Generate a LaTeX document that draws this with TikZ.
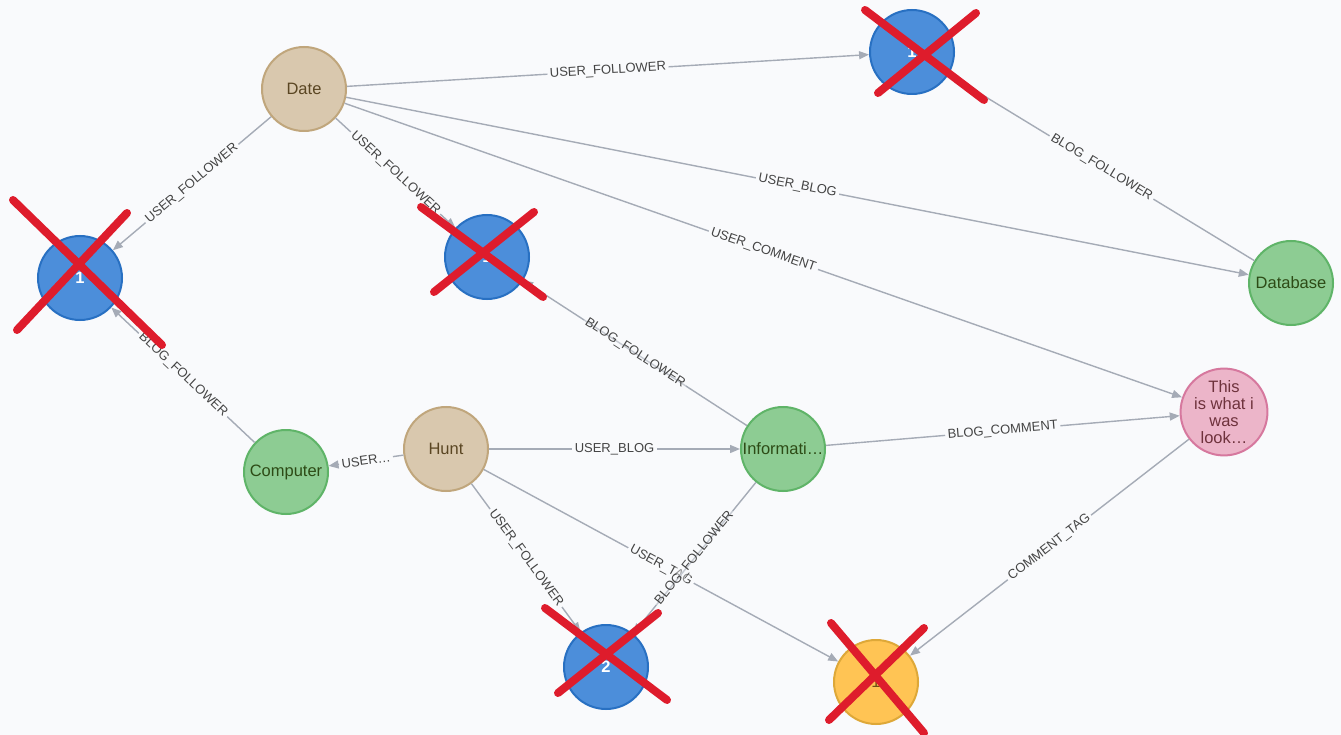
\documentclass[tikz,border=0pt]{standalone}
\usepackage{fontspec}
\setmainfont{Liberation Sans}
\usetikzlibrary{arrows.meta}

\definecolor{bg}{RGB}{249,250,252}
\definecolor{edgegray}{RGB}{165,171,182}
\definecolor{labelgray}{RGB}{68,68,68}
\definecolor{tanfill}{RGB}{217,200,174}
\definecolor{tanline}{RGB}{192,166,124}
\definecolor{tantext}{RGB}{90,70,35}
\definecolor{greenfill}{RGB}{141,204,147}
\definecolor{greenline}{RGB}{95,180,104}
\definecolor{greentext}{RGB}{45,75,22}
\definecolor{bluefill}{RGB}{76,142,218}
\definecolor{blueline}{RGB}{40,112,194}
\definecolor{pinkfill}{RGB}{236,181,201}
\definecolor{pinkline}{RGB}{214,120,158}
\definecolor{pinktext}{RGB}{110,50,60}
\definecolor{orangefill}{RGB}{255,196,84}
\definecolor{orangeline}{RGB}{222,168,56}
\definecolor{orangetext}{RGB}{110,80,20}
\definecolor{crossred}{RGB}{222,28,44}

\tikzset{
  gnode/.style={circle, minimum size=84pt, inner sep=0pt, line width=2pt,
    font=\fontsize{16.5}{17}\selectfont},
  usernode/.style={gnode, fill=tanfill, draw=tanline, text=tantext},
  blognode/.style={gnode, fill=greenfill, draw=greenline, text=greentext},
  idnode/.style={gnode, fill=bluefill, draw=blueline, text=white,
    font=\fontsize{16.5}{17}\selectfont\bfseries},
  commentnode/.style={gnode, fill=pinkfill, draw=pinkline, text=pinktext, align=center},
  tagnode/.style={gnode, fill=orangefill, draw=orangeline, text=orangetext},
  rel/.style={draw=edgegray, line width=1.4pt, -{Triangle[length=10pt,width=8pt]}},
  lbl/.style={sloped, fill=bg, inner sep=2.5pt, text=labelgray,
    font=\fontsize{13}{13}\selectfont},
  seethrough/.style={fill opacity=0.4, text opacity=1},
  strike/.style={draw=crossred, line width=8pt, line cap=round}
}

\begin{document}
\begin{tikzpicture}[x=1pt, y=-1pt]
  \fill[bg] (0,0) rectangle (1341,735);
  \useasboundingbox (0,0) rectangle (1341,735);

  % graph nodes
  \node[usernode]    (date)  at (304,89)   {Date};
  \node[usernode]    (hunt)  at (446,449)  {Hunt};
  \node[idnode]      (uone)  at (80,278)   {1};
  \node[idnode]      (utop)  at (912,52)   {1};
  \node[idnode]      (umid)  at (487,257)  {1};
  \node[idnode]      (utwo)  at (606,667)  {2};
  \node[blognode]    (db)    at (1291,283) {Database};
  \node[blognode]    (comp)  at (286,472)  {Computer};
  \node[blognode]    (info)  at (783,449)  {Informati…};
  \node[commentnode] (cmt)   at (1224,412) {This\\is what i\\was\\look…};
  \node[tagnode]     (tag)   at (876,682)  {1};

  % relationships
  \draw[rel] (date) -- node[lbl] {USER\_FOLLOWER} (uone);
  \draw[rel] (date) -- node[lbl] {USER\_FOLLOWER} (utop);
  \draw[rel] (date) -- node[lbl] {USER\_FOLLOWER} (umid);
  \draw[rel] (date) -- node[lbl] {USER\_BLOG} (db);
  \draw[rel] (date) -- node[lbl] {USER\_COMMENT} (cmt);
  \draw[rel] (db) -- node[lbl] {BLOG\_FOLLOWER} (utop);
  \draw[rel] (comp) -- node[lbl] {BLOG\_FOLLOWER} (uone);
  \draw[rel] (hunt) -- node[lbl] {USER…} (comp);
  \draw[rel] (hunt) -- node[lbl] {USER\_BLOG} (info);
  \draw[rel] (hunt) -- node[lbl] {USER\_FOLLOWER} (utwo);
  \draw[rel] (hunt) -- node[lbl] {USER\_TAG} (tag);
  \draw[rel] (info) -- node[lbl, seethrough] {BLOG\_FOLLOWER} (umid);
  \draw[rel] (info) -- node[lbl, seethrough] {BLOG\_FOLLOWER} (utwo);
  \draw[rel] (info) -- node[lbl] {BLOG\_COMMENT} (cmt);
  \draw[rel] (cmt) -- node[lbl] {COMMENT\_TAG} (tag);

  % red strike-through marks over hidden nodes
  \draw[strike] (13,200) -- (162,345);
  \draw[strike] (127,213) -- (17,330);
  \draw[strike] (865,10) -- (984,100);
  \draw[strike] (976,13) -- (878,93);
  \draw[strike] (421,207) -- (543,297);
  \draw[strike] (534,212) -- (434,292);
  \draw[strike] (545,608) -- (667,700);
  \draw[strike] (658,613) -- (558,693);
  \draw[strike] (831,623) -- (924,733);
  \draw[strike] (924,628) -- (829,720);
\end{tikzpicture}
\end{document}
